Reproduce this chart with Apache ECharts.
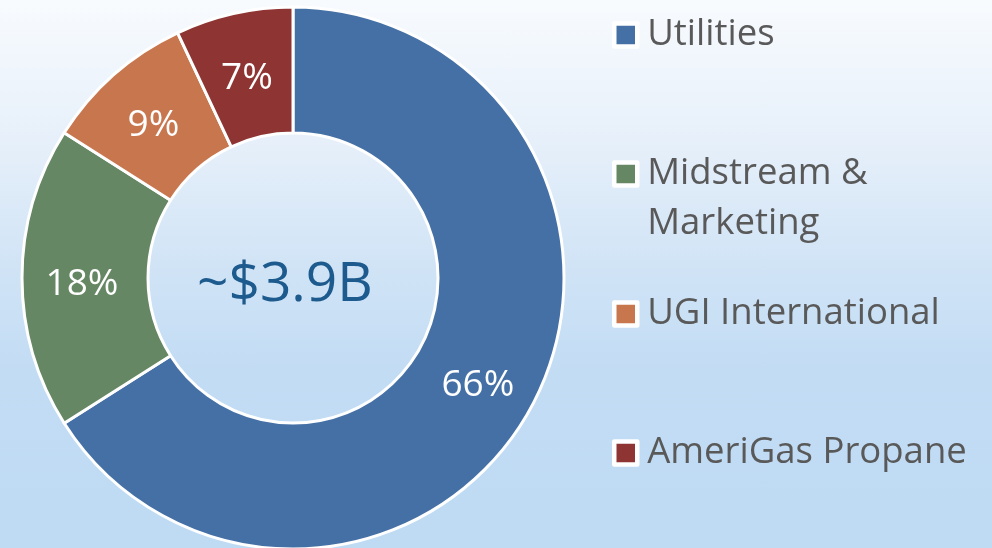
<!DOCTYPE html>
<html>
<head>
<meta charset="utf-8">
<script src="https://cdn.jsdelivr.net/npm/echarts@6/dist/echarts.min.js"></script>
<style>
  html, body { margin: 0; padding: 0; }
  #chart {
    width: 992px; height: 548px;
    background: linear-gradient(to bottom, #f8fbfe 0%, #e7f0fa 25%, #d1e4f6 48%, #c2dcf4 68%, #bedbf3 100%);
  }
</style>
</head>
<body>
<div id="chart"></div>
<script>
const categories = ['Utilities', 'Midstream & Marketing', 'UGI International', 'AmeriGas Propane'];
const values = [66, 18, 9, 7];
const colors = ['#4570a6', '#668763', '#c8764e', '#8e3432'];
const centerText = '~$3.9B';

const chart = echarts.init(document.getElementById('chart'), null, { renderer: 'canvas' });

const FONT = '"Open Sans", "Noto Sans", sans-serif';
const legendTops = [35, 174, 314, 453]; // icon centre y

const legends = categories.map((name, i) => {
  const multi = name.indexOf('& ') >= 0;
  return {
    data: [name],
    left: 612,
    top: multi ? legendTops[i] - 75 : legendTops[i] - 25,
    orient: 'vertical',
    padding: 0,
    icon: 'rect',
    itemWidth: 23,
    itemHeight: 23,
    selectedMode: false,
    itemStyle: { borderColor: '#ffffff', borderWidth: 4.5 },
    formatter: n => (n.indexOf('& ') >= 0 ? '\n' + n.replace('& ', '&\n') : n),
    textStyle: {
      fontFamily: FONT,
      fontSize: 36.5,
      color: '#595959',
      lineHeight: 50,
      padding: [0, 0, 0, 5]
    }
  };
});

chart.setOption({
  backgroundColor: 'transparent',
  color: colors,
  animation: false,
  legend: legends,
  graphic: [{
    type: 'text',
    left: 197,
    top: 258,
    style: {
      text: centerText,
      fontFamily: FONT,
      fontSize: 55,
      fill: '#1d5a8d'
    }
  }],
  series: [{
    type: 'pie',
    center: [293, 278],
    radius: [145, 271],
    startAngle: 90,
    clockwise: true,
    avoidLabelOverlap: false,
    itemStyle: { borderColor: '#ffffff', borderWidth: 3 },
    label: {
      show: true,
      position: 'inside',
      formatter: p => p.value + '%',
      color: '#ffffff',
      fontFamily: FONT,
      fontSize: 37,
      textBorderWidth: 0
    },
    labelLine: { show: false },
    emphasis: { disabled: true },
    labelLayout: () => ({ dy: 6 }),
    data: categories.map((c, i) => ({ name: c, value: values[i] }))
  }]
});
</script>
</body>
</html>
